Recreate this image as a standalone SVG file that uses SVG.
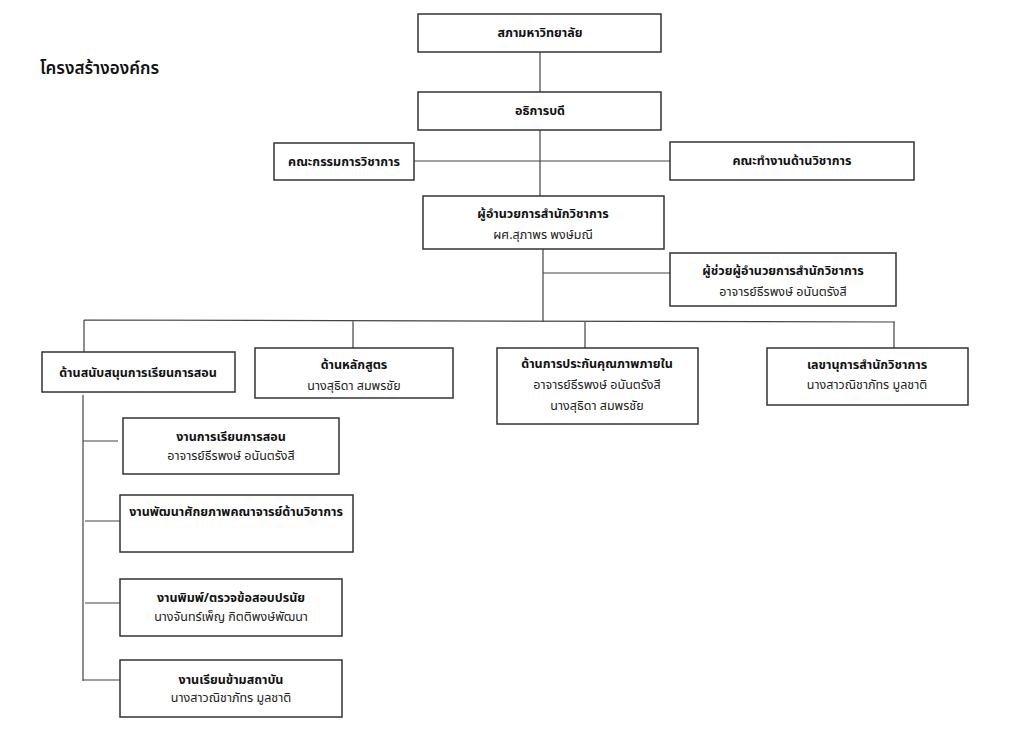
<svg xmlns="http://www.w3.org/2000/svg" width="1024" height="740" viewBox="0 0 1024 740">
<style>
.box{fill:#fff;stroke:#333;stroke-width:1.5}
.ln{stroke:#444;stroke-width:1.2;fill:none}
text{font-family:"Noto Sans Thai","Leelawadee UI","Tahoma","Loma","Garuda","DejaVu Sans",sans-serif;font-size:12.5px;fill:#222;text-anchor:middle}
.b{font-weight:bold;fill:#111}
.t{font-size:17px;font-weight:600;text-anchor:start;fill:#111}
</style>
<rect width="1024" height="740" fill="#fff"/>
<text class="t" x="40" y="74">โครงสร้างองค์กร</text>
<g id="connectors">
<path class="ln" d="M540 52V92M540 130V196M414 161H670M543 249V322M543 273H670"/>
<path class="ln" d="M84 320L895 322M84 320V352M353 321V348M585 322V348M894 322V348"/>
<path class="ln" d="M83 395V681M83 441H118M85 521H120M85 603H120M83 680H120"/>
</g>
<g id="n1"><rect class="box" x="418" y="14" width="243" height="38"/><text class="b" x="540" y="37">สภามหาวิทยาลัย</text></g>
<g id="n2"><rect class="box" x="418" y="92" width="243" height="38"/><text class="b" x="540" y="115">อธิการบดี</text></g>
<g id="n3"><rect class="box" x="274" y="143" width="140" height="37"/><text class="b" x="344" y="166">คณะกรรมการวิชาการ</text></g>
<g id="n4"><rect class="box" x="670" y="142" width="244" height="38"/><text class="b" x="792" y="165">คณะทำงานด้านวิชาการ</text></g>
<g id="n5"><rect class="box" x="423" y="196" width="241" height="53"/><text class="b" x="543" y="218">ผู้อำนวยการสำนักวิชาการ</text><text x="543" y="239">ผศ.สุภาพร  พงษ์มณี</text></g>
<g id="n6"><rect class="box" x="670" y="253" width="226" height="53"/><text class="b" x="783" y="275">ผู้ช่วยผู้อำนวยการสำนักวิชาการ</text><text x="783" y="296">อาจารย์ธีรพงษ์  อนันตรังสี</text></g>
<g id="n7"><rect class="box" x="42" y="352" width="193" height="40"/><text class="b" x="138" y="377">ด้านสนับสนุนการเรียนการสอน</text></g>
<g id="n8"><rect class="box" x="255" y="348" width="198" height="50"/><text class="b" x="354" y="369">ด้านหลักสูตร</text><text x="354" y="390">นางสุธิดา  สมพรชัย</text></g>
<g id="n9"><rect class="box" x="497" y="348" width="201" height="76"/><text class="b" x="597" y="368">ด้านการประกันคุณภาพภายใน</text><text x="597" y="389">อาจารย์ธีรพงษ์ อนันตรังสี</text><text x="597" y="410">นางสุธิดา  สมพรชัย</text></g>
<g id="n10"><rect class="box" x="767" y="348" width="201" height="57"/><text class="b" x="867" y="369">เลขานุการสำนักวิชาการ</text><text x="867" y="389">นางสาวณิชาภัทร มูลชาติ</text></g>
<g id="n11"><rect class="box" x="123" y="418" width="216" height="56"/><text class="b" x="231" y="441">งานการเรียนการสอน</text><text x="231" y="460">อาจารย์ธีรพงษ์ อนันตรังสี</text></g>
<g id="n12"><rect class="box" x="120" y="495" width="233" height="57"/><text class="b" x="236" y="516">งานพัฒนาศักยภาพคณาจารย์ด้านวิชาการ</text></g>
<g id="n13"><rect class="box" x="120" y="579" width="222" height="57"/><text class="b" x="231" y="602">งานพิมพ์/ตรวจข้อสอบปรนัย</text><text x="231" y="621">นางจันทร์เพ็ญ  กิตติพงษ์พัฒนา</text></g>
<g id="n14"><rect class="box" x="120" y="660" width="222" height="57"/><text class="b" x="231" y="684">งานเรียนข้ามสถาบัน</text><text x="231" y="702">นางสาวณิชาภัทร  มูลชาติ</text></g>
</svg>
